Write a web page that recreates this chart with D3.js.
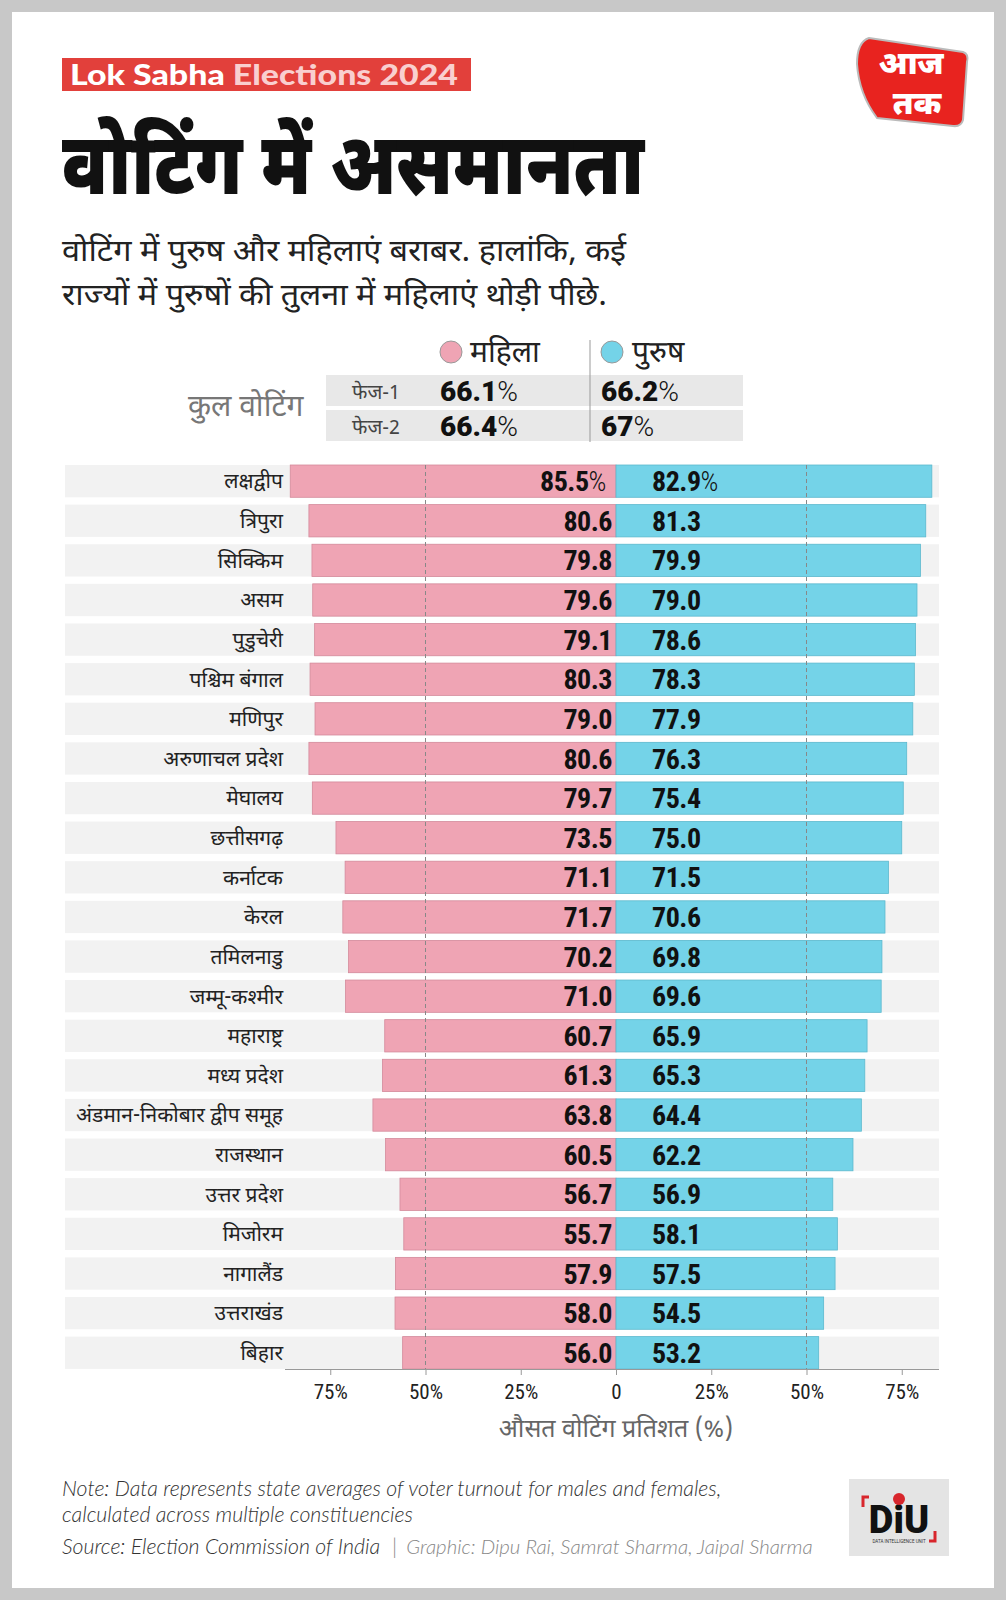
<!DOCTYPE html>
<html>
<head>
<meta charset="utf-8">
<script src="https://d3js.org/d3.v7.min.js"></script>
<style>
  body { margin: 0; background: #c8c8c8; }
  svg { display: block; }
</style>
</head>
<body>
<svg id="chart"></svg>
<script>
// states in display order
const states = ['लक्षद्वीप', 'त्रिपुरा', 'सिक्किम', 'असम', 'पुडुचेरी', 'पश्चिम बंगाल', 'मणिपुर',
  'अरुणाचल प्रदेश', 'मेघालय', 'छत्तीसगढ़', 'कर्नाटक', 'केरल', 'तमिलनाडु', 'जम्मू-कश्मीर',
  'महाराष्ट्र', 'मध्य प्रदेश', 'अंडमान-निकोबार द्वीप समूह', 'राजस्थान', 'उत्तर प्रदेश',
  'मिजोरम', 'नागालैंड', 'उत्तराखंड', 'बिहार'];
// female turnout (%)
const female = [85.5, 80.6, 79.8, 79.6, 79.1, 80.3, 79.0, 80.6, 79.7, 73.5, 71.1, 71.7,
  70.2, 71.0, 60.7, 61.3, 63.8, 60.5, 56.7, 55.7, 57.9, 58.0, 56.0];
// male turnout (%)
const male = [82.9, 81.3, 79.9, 79.0, 78.6, 78.3, 77.9, 76.3, 75.4, 75.0, 71.5, 70.6,
  69.8, 69.6, 65.9, 65.3, 64.4, 62.2, 56.9, 58.1, 57.5, 54.5, 53.2];
// overall turnout by phase
const phases = ['फेज-1', 'फेज-2'];
const phaseFemale = ['66.1', '66.4'];
const phaseMale = ['66.2', '67'];
const axisTicks = [75, 50, 25, 0, 25, 50, 75];

const W = 1006, H = 1600;
const pink = '#efa4b4', blue = '#74d3e8';
const dev = "'Noto Sans Devanagari', 'Noto Sans', 'Lato', sans-serif";
const num = "'Roboto Condensed', 'Liberation Sans Narrow', 'Roboto', sans-serif";

const svg = d3.select('#chart').attr('width', W).attr('height', H);

// card
svg.append('rect').attr('x', 12).attr('y', 12).attr('width', 982).attr('height', 1576).attr('fill', '#fff');

// header tag
svg.append('rect').attr('x', 62).attr('y', 58).attr('width', 409).attr('height', 33).attr('fill', '#e2403b');
const tag = svg.append('text').attr('x', 70).attr('y', 85)
  .attr('textLength', 388).attr('lengthAdjust', 'spacingAndGlyphs')
  .style('font-family', "'Lato', 'Roboto', sans-serif").style('font-weight', 900).style('font-size', '29px');
tag.append('tspan').attr('fill', '#fff').text('Lok Sabha ');
tag.append('tspan').attr('fill', '#f9cfcf').text('Elections 2024');

// title
svg.append('text').attr('x', 62).attr('y', 194)
  .attr('textLength', 582).attr('lengthAdjust', 'spacingAndGlyphs')
  .style('font-family', dev).style('font-weight', 900).style('font-size', '86px').attr('fill', '#111')
  .text('वोटिंग में असमानता');

// subtitle
const sub = ['वोटिंग में पुरुष और महिलाएं बराबर. हालांकि, कई', 'राज्यों में पुरुषों की तुलना में महिलाएं थोड़ी पीछे.'];
const subLen = [564, 545];
svg.append('g').selectAll('text').data(sub).join('text')
  .attr('x', 62).attr('y', (d, i) => 261 + i * 44)
  .attr('textLength', (d, i) => subLen[i]).attr('lengthAdjust', 'spacingAndGlyphs')
  .style('font-family', dev).style('font-size', '31px').attr('fill', '#222')
  .text(d => d);

// aaj tak logo
const logo = svg.append('g').attr('transform', 'translate(855,34)');
logo.append('path').attr('d', 'M14,4 L108,18 Q114,20 112,28 L108,86 Q106,93 98,92 L22,84 Q4,60 2,30 Q2,8 14,4 Z')
  .attr('fill', '#e8231f').attr('stroke', '#bbb').attr('stroke-width', 2);
logo.append('text').attr('x', 56).attr('y', 40).attr('text-anchor', 'middle')
  .style('font-family', dev).style('font-weight', 900).style('font-size', '32px').attr('fill', '#fff').text('आज');
logo.append('text').attr('x', 62).attr('y', 80).attr('text-anchor', 'middle')
  .style('font-family', dev).style('font-weight', 900).style('font-size', '32px').attr('fill', '#fff').text('तक');

// overall turnout table
const tbl = svg.append('g');
tbl.selectAll('rect.band').data(phases).join('rect')
  .attr('x', 326).attr('y', (d, i) => 375 + i * 35).attr('width', 417).attr('height', 31).attr('fill', '#e8e8e8');
tbl.append('line').attr('x1', 590).attr('x2', 590).attr('y1', 340).attr('y2', 442).attr('stroke', '#999');
tbl.append('circle').attr('cx', 451).attr('cy', 352).attr('r', 11).attr('fill', pink).attr('stroke', '#999');
tbl.append('text').attr('x', 470).attr('y', 362).style('font-family', dev).style('font-size', '30px').attr('fill', '#222').text('महिला');
tbl.append('circle').attr('cx', 612).attr('cy', 352).attr('r', 11).attr('fill', blue).attr('stroke', '#999');
tbl.append('text').attr('x', 632).attr('y', 362).style('font-family', dev).style('font-size', '30px').attr('fill', '#222').text('पुरुष');
tbl.append('text').attr('x', 188).attr('y', 416).style('font-family', dev).style('font-size', '30px').attr('fill', '#777').text('कुल वोटिंग');
tbl.selectAll('text.ph').data(phases).join('text')
  .attr('x', 352).attr('y', (d, i) => 399 + i * 35)
  .style('font-family', dev).style('font-size', '20px').attr('fill', '#444').text(d => d);
function pct(sel, vals, x) {
  sel.selectAll('text.v' + x).data(vals).join('text')
    .attr('x', x).attr('y', (d, i) => 401 + i * 35)
    .style('font-family', "'Roboto', sans-serif").style('font-size', '28px').attr('fill', '#111')
    .each(function(d) {
      const t = d3.select(this);
      t.append('tspan').style('font-weight', 900).text(d);
      t.append('tspan').style('font-weight', 300).text('%');
    });
}
pct(tbl, phaseFemale, 440);
pct(tbl, phaseMale, 601);

// butterfly chart
const x0 = 616;
const half = d3.scaleLinear().domain([0, 100]).range([0, 381]);
const y = d3.scaleBand().domain(states).range([465, 465 + 39.3 * states.length]).paddingInner(0.185).paddingOuter(0);
const axisY = 1369;

const rows = svg.append('g').selectAll('g').data(states).join('g')
  .attr('transform', d => `translate(0,${y(d)})`);
rows.append('rect').attr('x', 65).attr('width', 874).attr('height', y.bandwidth()).attr('fill', '#f2f2f2');
rows.append('rect').attr('x', (d, i) => x0 - half(female[i])).attr('width', (d, i) => half(female[i]))
  .attr('height', y.bandwidth()).attr('fill', pink).attr('stroke', '#d48a9b').attr('stroke-width', 0.8);
rows.append('rect').attr('x', x0).attr('width', (d, i) => half(male[i]))
  .attr('height', y.bandwidth()).attr('fill', blue).attr('stroke', '#5cb9ce').attr('stroke-width', 0.8);
rows.append('text').attr('x', 283).attr('y', y.bandwidth() / 2).attr('dy', '0.35em').attr('text-anchor', 'end')
  .style('font-family', dev).style('font-size', '21px').attr('fill', '#222').text(d => d);

function val(t, v, first) {
  t.append('tspan').style('font-weight', 700).text(v.toFixed(1));
  if (first) t.append('tspan').style('font-weight', 300).text('%');
}
rows.append('text').attr('x', (d, i) => i === 0 ? x0 - 10 : x0 - 4).attr('y', y.bandwidth() / 2).attr('dy', '0.36em').attr('text-anchor', 'end')
  .style('font-family', num).style('font-size', '28px').style('letter-spacing', '-0.5px').attr('fill', '#111')
  .each(function(d, i) { val(d3.select(this), female[i], i === 0); });
rows.append('text').attr('x', x0 + 36).attr('y', y.bandwidth() / 2).attr('dy', '0.36em')
  .style('font-family', num).style('font-size', '28px').style('letter-spacing', '-0.5px').attr('fill', '#111')
  .each(function(d, i) { val(d3.select(this), male[i], i === 0); });

// dashed 50% guides
svg.append('g').selectAll('line').data([-50, 50]).join('line')
  .attr('x1', d => x0 + Math.sign(d) * half(Math.abs(d))).attr('x2', d => x0 + Math.sign(d) * half(Math.abs(d)))
  .attr('y1', 465).attr('y2', axisY)
  .attr('stroke', '#888').attr('stroke-width', 1).attr('stroke-dasharray', '4,3');

// axis
const axisScale = d3.scaleLinear().domain([-100, 100]).range([x0 - half(100), x0 + half(100)]);
const signed = axisTicks.map((t, i) => i < 3 ? -t : t);
const ax = svg.append('g').attr('transform', `translate(0,${axisY})`)
  .call(d3.axisBottom(axisScale).tickValues(signed).tickSize(6).tickPadding(9)
    .tickFormat(d => d === 0 ? '0' : Math.abs(d) + '%'));
ax.select('.domain').attr('d', `M${285},0.5H${939}`).attr('stroke', '#999');
ax.selectAll('.tick line').attr('stroke', '#999');
ax.selectAll('.tick text').style('font-family', num).style('font-size', '21px').attr('fill', '#222');
svg.append('text').attr('x', x0).attr('y', 1437).attr('text-anchor', 'middle')
  .style('font-family', dev).style('font-size', '25px').attr('fill', '#666').text('औसत वोटिंग प्रतिशत (%)');

// footer
const foot = svg.append('g').style('font-family', "'Lato', sans-serif").style('font-style', 'italic').style('font-weight', 300).style('font-size', '21.3px');
foot.append('text').attr('x', 62).attr('y', 1496).attr('fill', '#333').text('Note: Data represents state averages of voter turnout for males and females,');
foot.append('text').attr('x', 62).attr('y', 1522).attr('fill', '#333').text('calculated across multiple constituencies');
const src = foot.append('text').attr('x', 62).attr('y', 1554);
src.append('tspan').attr('fill', '#333').text('Source: Election Commission of India');
src.append('tspan').attr('fill', '#888').attr('dx', 12).text('|');
src.append('tspan').attr('fill', '#888').attr('dx', 9).style('font-size', '20.4px').text('Graphic: Dipu Rai, Samrat Sharma, Jaipal Sharma');

// DIU logo
const diu = svg.append('g').attr('transform', 'translate(849,1479)');
diu.append('rect').attr('width', 100).attr('height', 77).attr('fill', '#e4e4e4');
diu.append('text').attr('x', 50).attr('y', 54).attr('text-anchor', 'middle')
  .style('font-family', "'Roboto', sans-serif").style('font-weight', 900).style('font-size', '38px').attr('fill', '#111').text('DiU');
diu.append('circle').attr('cx', 50).attr('cy', 20).attr('r', 6).attr('fill', '#d8262c');
diu.append('path').attr('d', 'M14,28 V18 H20 M86,52 V62 H80').attr('fill', 'none').attr('stroke', '#d8262c').attr('stroke-width', 3);
diu.append('text').attr('x', 50).attr('y', 64).attr('text-anchor', 'middle')
  .style('font-family', "'Roboto', sans-serif").style('font-size', '4.5px').attr('fill', '#333').text('DATA INTELLIGENCE UNIT');
</script>
</body>
</html>
